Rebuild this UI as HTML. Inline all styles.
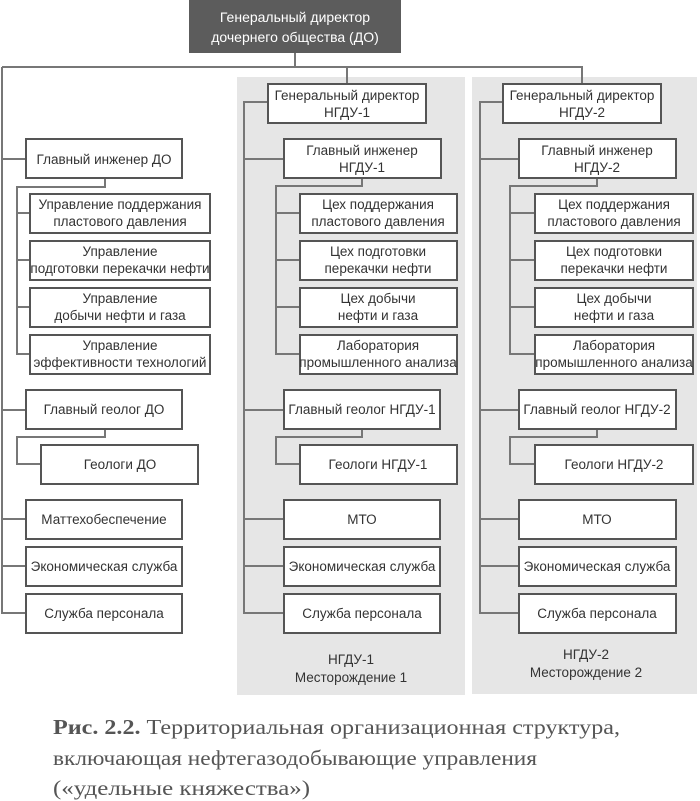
<!DOCTYPE html>
<html><head><meta charset="utf-8"><style>
body{margin:0;background:#fff}
svg{display:block}
.b{fill:#fff;stroke:#555;stroke-width:2}
.l{stroke:#777;stroke-width:2;fill:none}
text{font-family:"Liberation Sans","DejaVu Sans",sans-serif;font-size:13.5px;fill:#333;text-anchor:middle}
.c{font-family:"Liberation Serif","DejaVu Serif",serif;font-size:21px;fill:#555;text-anchor:start}
</style></head><body>
<svg width="700" height="801" viewBox="0 0 700 801" xmlns="http://www.w3.org/2000/svg">
<rect x="237" y="77" width="228" height="618" fill="#e6e6e6"/>
<rect x="472" y="77" width="225" height="617" fill="#e6e6e6"/>
<rect x="189" y="0" width="212" height="53" fill="#5c5c5c"/>
<text x="295" y="22" style="fill:#fff;font-size:14px">Генеральный директор</text>
<text x="295" y="42" style="fill:#fff;font-size:14px">дочернего общества (ДО)</text>
<path class="l" d="M295 53V67M2 67H582V84M347 67V84M2 67V613H26M2 159H26M2 410H26M2 519H26M2 566H26"/>
<path class="l" d="M105 178V187H17V354H30M17 213H30M17 260H30M17 307H30"/>
<path class="l" d="M105 429V437H17V464H41"/>
<path class="l" d="M268 102H244V613H284M244 159H284M244 410H284M244 519H284M244 566H284"/>
<path class="l" d="M362 178V186H276V354H300M276 213H300M276 260H300M276 307H300"/>
<path class="l" d="M362 429V437H276V464H300"/>
<path class="l" d="M503 102H480V613H519M480 159H519M480 410H519M480 519H519M480 566H519"/>
<path class="l" d="M597 178V186H510V354H535M510 213H535M510 260H535M510 307H535"/>
<path class="l" d="M597 429V437H510V464H535"/>
<rect class="b" x="26" y="139" width="156" height="39"/><text x="104" y="164">Главный инженер ДО</text>
<rect class="b" x="30" y="194" width="180" height="39"/><text x="120" y="209">Управление поддержания</text><text x="120" y="226">пластового давления</text>
<rect class="b" x="30" y="241" width="180" height="39"/><text x="120" y="256">Управление</text><text x="120" y="273">подготовки перекачки нефти</text>
<rect class="b" x="30" y="288" width="180" height="39"/><text x="120" y="303">Управление</text><text x="120" y="320">добычи нефти и газа</text>
<rect class="b" x="30" y="335" width="180" height="39"/><text x="120" y="350">Управление</text><text x="120" y="367">эффективности технологий</text>
<rect class="b" x="26" y="390" width="156" height="39"/><text x="104" y="414">Главный геолог ДО</text>
<rect class="b" x="41" y="445" width="157" height="39"/><text x="120" y="469">Геологи ДО</text>
<rect class="b" x="26" y="500" width="156" height="39"/><text x="104" y="524">Маттехобеспечение</text>
<rect class="b" x="26" y="547" width="156" height="39"/><text x="104" y="571">Экономическая служба</text>
<rect class="b" x="26" y="594" width="156" height="39"/><text x="104" y="618">Служба персонала</text>
<rect class="b" x="268" y="84" width="158" height="39"/><text x="347" y="100">Генеральный директор</text><text x="347" y="117">НГДУ-1</text>
<rect class="b" x="284" y="139" width="157" height="39"/><text x="362" y="155">Главный инженер</text><text x="362" y="172">НГДУ-1</text>
<rect class="b" x="300" y="194" width="157" height="39"/><text x="378" y="209">Цех поддержания</text><text x="378" y="226">пластового давления</text>
<rect class="b" x="300" y="241" width="157" height="39"/><text x="378" y="256">Цех подготовки</text><text x="378" y="273">перекачки нефти</text>
<rect class="b" x="300" y="288" width="157" height="39"/><text x="378" y="303">Цех добычи</text><text x="378" y="320">нефти и газа</text>
<rect class="b" x="300" y="335" width="157" height="39"/><text x="378" y="350">Лаборатория</text><text x="378" y="367">промышленного анализа</text>
<rect class="b" x="284" y="390" width="156" height="39"/><text x="362" y="414">Главный геолог НГДУ-1</text>
<rect class="b" x="300" y="445" width="157" height="39"/><text x="378" y="469">Геологи НГДУ-1</text>
<rect class="b" x="284" y="500" width="156" height="39"/><text x="362" y="524">МТО</text>
<rect class="b" x="284" y="547" width="156" height="39"/><text x="362" y="571">Экономическая служба</text>
<rect class="b" x="284" y="594" width="156" height="39"/><text x="362" y="618">Служба персонала</text>
<text x="351" y="664">НГДУ-1</text><text x="351" y="682">Месторождение 1</text>
<rect class="b" x="503" y="84" width="158" height="39"/><text x="582" y="100">Генеральный директор</text><text x="582" y="117">НГДУ-2</text>
<rect class="b" x="519" y="139" width="157" height="39"/><text x="597" y="155">Главный инженер</text><text x="597" y="172">НГДУ-2</text>
<rect class="b" x="535" y="194" width="158" height="39"/><text x="614" y="209">Цех поддержания</text><text x="614" y="226">пластового давления</text>
<rect class="b" x="535" y="241" width="158" height="39"/><text x="614" y="256">Цех подготовки</text><text x="614" y="273">перекачки нефти</text>
<rect class="b" x="535" y="288" width="158" height="39"/><text x="614" y="303">Цех добычи</text><text x="614" y="320">нефти и газа</text>
<rect class="b" x="535" y="335" width="158" height="39"/><text x="614" y="350">Лаборатория</text><text x="614" y="367">промышленного анализа</text>
<rect class="b" x="519" y="390" width="157" height="39"/><text x="597" y="414">Главный геолог НГДУ-2</text>
<rect class="b" x="535" y="445" width="158" height="39"/><text x="614" y="469">Геологи НГДУ-2</text>
<rect class="b" x="519" y="500" width="157" height="39"/><text x="597" y="524">МТО</text>
<rect class="b" x="519" y="547" width="157" height="39"/><text x="597" y="571">Экономическая служба</text>
<rect class="b" x="519" y="594" width="157" height="39"/><text x="597" y="618">Служба персонала</text>
<text x="586" y="659">НГДУ-2</text><text x="586" y="677">Месторождение 2</text>
<text class="c" x="53" y="734" textLength="567" lengthAdjust="spacingAndGlyphs"><tspan font-weight="bold">Рис. 2.2.</tspan> Территориальная организационная структура,</text>
<text class="c" x="53" y="765" textLength="484" lengthAdjust="spacingAndGlyphs">включающая нефтегазодобывающие управления</text>
<text class="c" x="53" y="795" textLength="257" lengthAdjust="spacingAndGlyphs">(«удельные княжества»)</text>
</svg>
</body></html>
